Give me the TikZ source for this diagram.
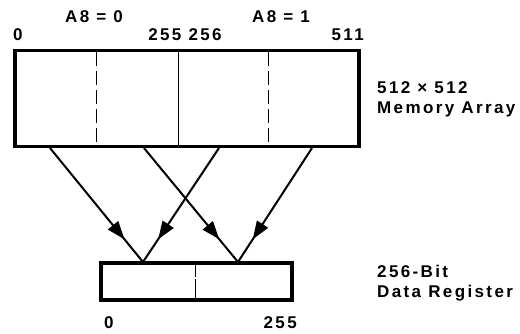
\documentclass[tikz,border=0pt]{standalone}
\usepackage{fontspec}
\usepackage{tikz}
\usetikzlibrary{arrows.meta, positioning, decorations.markings}
\newfontfamily\lblfont[LetterSpace=14]{Liberation Sans}

\begin{document}
\begin{tikzpicture}[
  x=1pt, y=-1pt,
  box/.style={draw, line width=3.5pt, inner sep=0pt, outer sep=0pt},
  divider/.style={line width=1pt},
  lbl/.style={font=\lblfont\bfseries\fontsize{17}{20}\selectfont, inner sep=0pt},
  wire/.style={line width=2pt, postaction={decorate},
    decoration={markings, mark=at position 0.8 with {\arrow{Triangle[length=18pt,width=13pt]}}}}
]
\useasboundingbox (0,0) rectangle (520,333);

% memory array and data register
\node[box, minimum width=344pt, minimum height=96pt] (array) at (187,98.5) {};
\node[box, minimum width=191pt, minimum height=37pt] (reg)   at (196.5,281.5) {};

\draw[divider, dash pattern=on 14pt off 5pt] (96,52) -- (96,145);
\draw[divider] (178,52) -- (178,145);
\draw[divider, dash pattern=on 14pt off 5pt] (268,52) -- (268,145);
\draw[divider, dash pattern=on 12pt off 2pt on 40pt] (195,265) -- (195,299);

% column labels
\node[lbl, anchor=base] (half0) at (94,22)  {A8 = 0};
\node[lbl, anchor=base] (half1) at (281,22) {A8 = 1};
\node[lbl, anchor=base west] (c0)   at (13,40)  {0};
\node[lbl, anchor=base] (cmid) at (185,40) {255 256};
\node[lbl, anchor=base east] (c511) at (364,40) {511};

\node[lbl, anchor=base west] (arr1) at (377,93)  {512 × 512};
\node[lbl, anchor=base west] (arr2) at (377,113) {Memory Array};
\node[lbl, anchor=base west] (reg1) at (377,277) {256-Bit};
\node[lbl, anchor=base west] (reg2) at (377,297) {Data Register};

\node[lbl, anchor=base west] (r0)   at (104,328) {0};
\node[lbl, anchor=base east] (r255) at (297,328) {255};

% bit lines
\coordinate (out0) at (50,148);
\coordinate (out1) at (144,148);
\coordinate (out2) at (219,148);
\coordinate (out3) at (312,148);
\coordinate (in0)  at (143,262);
\coordinate (in1)  at (238,262);

\draw[wire] (out0) -- (in0);
\draw[wire] (out1) -- (in1);
\draw[wire] (out2) -- (in0);
\draw[wire] (out3) -- (in1);
\end{tikzpicture}
\end{document}
